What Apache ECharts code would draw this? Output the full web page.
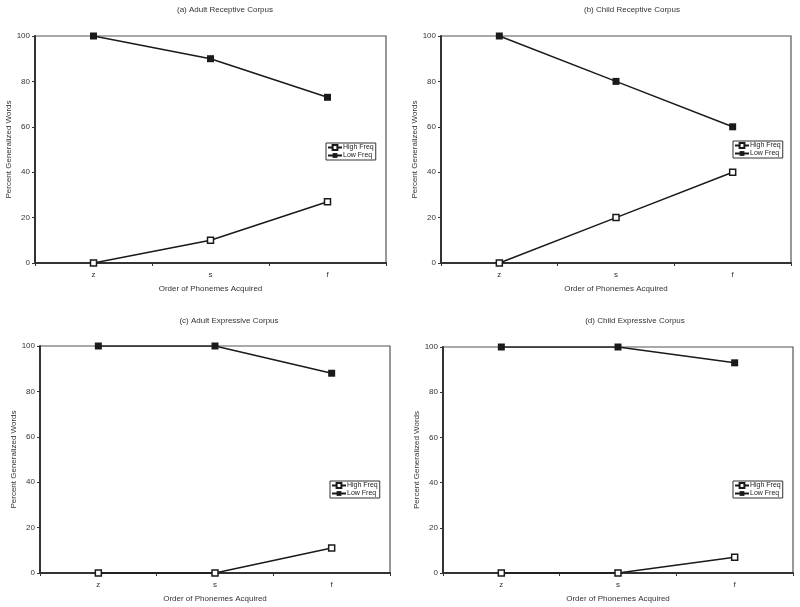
<!DOCTYPE html>
<html>
<head>
<meta charset="utf-8">
<script src="https://cdn.jsdelivr.net/npm/echarts@6/dist/echarts.min.js"></script>
<style>html,body{margin:0;padding:0;background:#fff}#c{width:800px;height:607px}</style>
</head>
<body>
<div id="c"></div>
<script>
const categories = ['z', 's', 'f'];
const titles = ['(a) Adult Receptive Corpus', '(b) Child Receptive Corpus', '(c) Adult Expressive Corpus', '(d) Child Expressive Corpus'];
const highFreqA = [0, 10, 27];
const lowFreqA = [100, 90, 73];
const highFreqB = [0, 20, 40];
const lowFreqB = [100, 80, 60];
const highFreqC = [0, 0, 11];
const lowFreqC = [100, 100, 88];
const highFreqD = [0, 0, 7];
const lowFreqD = [100, 100, 93];
const yTicks = [0, 20, 40, 60, 80, 100];

const highs = [highFreqA, highFreqB, highFreqC, highFreqD];
const lows = [lowFreqA, lowFreqB, lowFreqC, lowFreqD];

const font = 'Liberation Sans, Arial, sans-serif';
const grids = [
  {left: 35, right: 414, top: 36, bottom: 344},
  {left: 441, right: 9, top: 36, bottom: 344},
  {left: 40, right: 410, top: 346, bottom: 34},
  {left: 443, right: 7, top: 347, bottom: 34}
];
const titlePos = [[220, 1], [627, 1], [224, 312], [630, 312]];
const legendPos = [[326, 143], [733, 141], [330, 481], [733, 481]];

const option = {
  animation: false,
  backgroundColor: '#fff',
  textStyle: {fontFamily: font},
  title: titles.map((t, i) => ({
    text: t, left: titlePos[i][0], top: titlePos[i][1], textAlign: 'center',
    textStyle: {fontSize: 8, fontWeight: 'normal', color: '#333', fontFamily: font}
  })),
  legend: legendPos.map((p, i) => ({
    data: ['High Freq', 'Low Freq'],
    orient: 'vertical', left: p[0], top: p[1],
    itemWidth: 14, itemHeight: 6, itemGap: 1,
    padding: [1, 2, 1, 1],
    borderColor: '#333', borderWidth: 1,
    selectedMode: false,
    textStyle: {fontSize: 7, color: '#222', fontFamily: font, padding: [0, 0, 0, -4]}
  })),
  grid: grids.map(g => Object.assign({show: true, borderColor: '#555', borderWidth: 1.2, backgroundColor: '#fff'}, g)),
  xAxis: grids.map((g, i) => ({
    type: 'category', gridIndex: i, data: categories, boundaryGap: true,
    name: 'Order of Phonemes Acquired', nameLocation: 'middle', nameGap: 22,
    nameTextStyle: {fontSize: 8, color: '#333', fontFamily: font},
    axisLine: {lineStyle: {color: '#333', width: 2}},
    axisTick: {show: true, length: 3, lineStyle: {color: '#333'}},
    axisLabel: {fontSize: 8, color: '#333', margin: 8}
  })),
  yAxis: grids.map((g, i) => ({
    type: 'value', gridIndex: i, min: 0, max: 100, interval: 20,
    name: 'Percent Generalized Words', nameLocation: 'middle', nameGap: 22,
    nameTextStyle: {fontSize: 8, color: '#333', fontFamily: font},
    axisLine: {show: true, lineStyle: {color: '#333', width: 2}},
    axisTick: {show: true, length: 3, lineStyle: {color: '#333'}},
    axisLabel: {fontSize: 8, color: '#333', margin: 5,
      formatter: v => yTicks.indexOf(v) >= 0 ? String(v) : ''},
    splitLine: {show: false}
  })),
  series: []
};

for (let i = 0; i < 4; i++) {
  option.series.push({
    name: 'High Freq', type: 'line', xAxisIndex: i, yAxisIndex: i,
    data: highs[i], symbol: 'rect', symbolSize: 6,
    lineStyle: {color: '#1a1a1a', width: 1.5},
    itemStyle: {color: '#fff', borderColor: '#1a1a1a', borderWidth: 1.5},
    z: 3
  });
  option.series.push({
    name: 'Low Freq', type: 'line', xAxisIndex: i, yAxisIndex: i,
    data: lows[i], symbol: 'rect', symbolSize: 7,
    lineStyle: {color: '#1a1a1a', width: 1.5},
    itemStyle: {color: '#1a1a1a', borderColor: '#1a1a1a', borderWidth: 0},
    z: 3
  });
}

const chart = echarts.init(document.getElementById('c'), null, {renderer: 'canvas'});
chart.setOption(option);
</script>
</body>
</html>
